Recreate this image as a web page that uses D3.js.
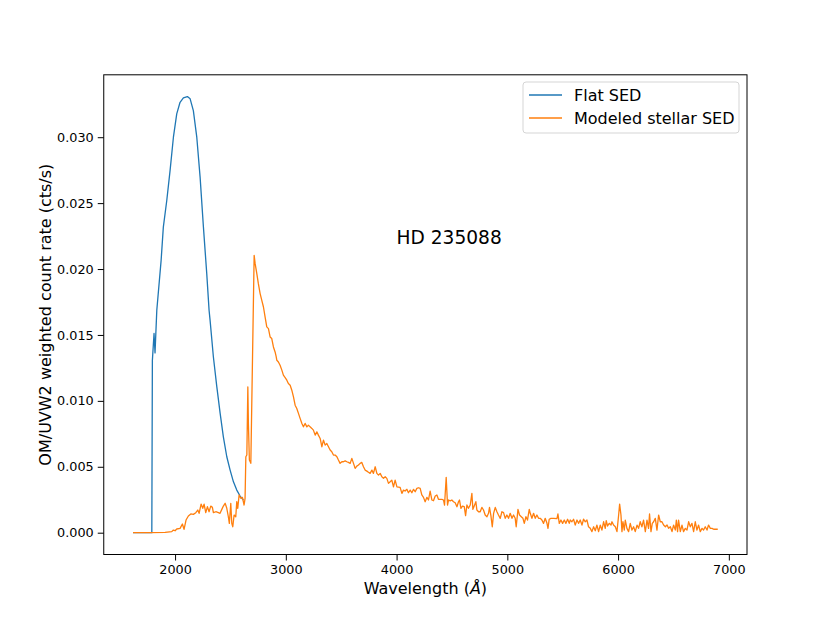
<!DOCTYPE html>
<html lang="en">
<head>
  <meta charset="UTF-8">
  <title>HD 235088 - OM/UVW2 weighted count rate</title>
  <script src="https://d3js.org/d3.v7.min.js"></script>
  <style>
    body { margin: 0; background: #fff; }
    svg { font-family: "DejaVu Sans", sans-serif; }
    .axis path, .axis line { stroke: #000; stroke-width: 1; }
    .axis text { fill: #000; }
    .frame { fill: none; stroke: #000; stroke-width: 1; }
    .series { fill: none; stroke-width: 1.3; stroke-linejoin: round; }
  </style>
</head>
<body>
  <svg id="chart" width="830" height="623"></svg>
  <script>
    // Flat SED (blue)
    const flatWave = [1620, 1790, 1795, 1810, 1819, 1835, 1874, 1894, 1925, 1955, 1985, 2015, 2045, 2075,
      2111, 2136, 2165, 2196, 2226, 2256, 2286, 2307, 2316, 2346, 2377, 2407, 2436, 2467, 2497, 2527,
      2557, 2587, 2617];
    const flatRate = [0, 0, 0.01305, 0.01511, 0.01364, 0.01687, 0.02066, 0.02318, 0.02520, 0.02748,
      0.03000, 0.03177, 0.03265, 0.03298, 0.03308, 0.03291, 0.03202, 0.03000, 0.02697, 0.02318, 0.01965,
      0.01687, 0.01612, 0.01333, 0.01106, 0.00905, 0.00727, 0.00576, 0.00475, 0.00386, 0.00323, 0.00278,
      0.00248];

    // Modeled stellar SED (orange)
    const stellarWave = [1620, 1774, 1910, 1970, 1985, 2000, 2015, 2045, 2066, 2081, 2099, 2120, 2142,
      2165, 2187, 2205, 2217, 2235, 2250, 2262, 2277, 2292, 2307, 2322, 2337, 2346, 2368, 2391, 2406,
      2422, 2436, 2452, 2467, 2481, 2490, 2503, 2512, 2521, 2533, 2548, 2557, 2566, 2578, 2593, 2608,
      2623, 2632, 2639, 2648, 2657, 2662, 2671, 2684, 2714, 2723, 2738, 2752, 2768, 2783, 2798, 2813,
      2828, 2843, 2858, 2873, 2888, 2903, 2912, 2919, 2933, 2948, 2964, 2978, 2994, 3009, 3023, 3039,
      3054, 3069, 3084, 3099, 3114, 3129, 3145, 3159, 3174, 3190, 3204, 3219, 3235, 3249, 3265, 3280,
      3294, 3310, 3325, 3340, 3355, 3370, 3385, 3400, 3415, 3430, 3445, 3461, 3475, 3490, 3506, 3520,
      3536, 3551, 3565, 3581, 3596, 3611, 3626, 3641, 3656, 3671, 3686, 3701, 3716, 3732, 3746, 3761,
      3777, 3791, 3807, 3822, 3837, 3852, 3867, 3882, 3897, 3912, 3927, 3942, 3957, 3972, 3987, 4003,
      4032, 4048, 4062, 4077, 4093, 4107, 4123, 4138, 4153, 4168, 4183, 4198, 4213, 4228, 4243, 4258,
      4274, 4288, 4303, 4319, 4333, 4349, 4364, 4378, 4394, 4409, 4424, 4433, 4448, 4460, 4469, 4484,
      4499, 4514, 4529, 4545, 4559, 4568, 4581, 4595, 4611, 4623, 4635, 4649, 4665, 4680, 4689, 4701,
      4716, 4725, 4740, 4755, 4770, 4785, 4800, 4816, 4830, 4839, 4852, 4864, 4876, 4891, 4906, 4920,
      4936, 4951, 4966, 4981, 4996, 5011, 5026, 5042, 5056, 5071, 5080, 5096, 5110, 5126, 5141, 5153,
      5168, 5182, 5198, 5207, 5222, 5237, 5252, 5267, 5282, 5297, 5312, 5327, 5342, 5358, 5367, 5378,
      5394, 5417, 5448, 5457, 5469, 5484, 5499, 5514, 5529, 5544, 5559, 5568, 5583, 5598, 5613, 5629,
      5643, 5658, 5674, 5688, 5704, 5719, 5733, 5749, 5764, 5779, 5794, 5809, 5824, 5839, 5854, 5869,
      5884, 5893, 5905, 5920, 5936, 5945, 5959, 5975, 5990, 6005, 6014, 6026, 6035, 6044, 6056, 6065,
      6080, 6095, 6110, 6125, 6140, 6155, 6171, 6185, 6200, 6215, 6230, 6246, 6261, 6275, 6284, 6297,
      6309, 6321, 6336, 6351, 6366, 6381, 6396, 6411, 6427, 6442, 6456, 6472, 6487, 6501, 6517, 6526,
      6537, 6546, 6562, 6577, 6591, 6607, 6622, 6637, 6652, 6667, 6682, 6697, 6712, 6727, 6742, 6758,
      6772, 6787, 6803, 6817, 6833, 6848, 6863, 6880, 6900];
    const stellarRate = [0, 0, 0.00002, 0.00008, 0.00020, 0.00015, 0.00028, 0.00033, 0.00066, 0.00026,
      0.00096, 0.00127, 0.00142, 0.00139, 0.00152, 0.00172, 0.00147, 0.00217, 0.00185, 0.00217, 0.00152,
      0.00197, 0.00159, 0.00202, 0.00192, 0.00152, 0.00159, 0.00152, 0.00147, 0.00177, 0.00202, 0.00223,
      0.00185, 0.00121, 0.00071, 0.00223, 0.00071, 0.00045, 0.00134, 0.00121, 0.00235, 0.00185, 0.00286,
      0.00261, 0.00268, 0.00210, 0.00261, 0.00576, 0.00589, 0.01106, 0.00829, 0.00551, 0.00526, 0.02104,
      0.02041, 0.01965, 0.01889, 0.01814, 0.01763, 0.01712, 0.01636, 0.01561, 0.01548, 0.01485, 0.01473,
      0.01409, 0.01371, 0.01339, 0.01308, 0.01295, 0.01270, 0.01233, 0.01195, 0.01177, 0.01157, 0.01132,
      0.01119, 0.01081, 0.01030, 0.00967, 0.00942, 0.00905, 0.00867, 0.00829, 0.00803, 0.00829, 0.00803,
      0.00816, 0.00803, 0.00791, 0.00778, 0.00740, 0.00765, 0.00740, 0.00715, 0.00652, 0.00702, 0.00664,
      0.00677, 0.00652, 0.00627, 0.00614, 0.00589, 0.00589, 0.00576, 0.00551, 0.00526, 0.00538, 0.00538,
      0.00545, 0.00538, 0.00533, 0.00526, 0.00564, 0.00526, 0.00488, 0.00505, 0.00513, 0.00526, 0.00533,
      0.00500, 0.00475, 0.00467, 0.00458, 0.00450, 0.00475, 0.00450, 0.00500, 0.00450, 0.00437, 0.00450,
      0.00424, 0.00412, 0.00424, 0.00412, 0.00374, 0.00386, 0.00399, 0.00348, 0.00399, 0.00348, 0.00344,
      0.00298, 0.00323, 0.00316, 0.00329, 0.00303, 0.00323, 0.00303, 0.00329, 0.00311, 0.00336, 0.00341,
      0.00336, 0.00286, 0.00268, 0.00235, 0.00268, 0.00248, 0.00316, 0.00248, 0.00242, 0.00278, 0.00286,
      0.00253, 0.00253, 0.00253, 0.00248, 0.00210, 0.00420, 0.00210, 0.00248, 0.00242, 0.00248, 0.00235,
      0.00227, 0.00197, 0.00235, 0.00248, 0.00185, 0.00202, 0.00197, 0.00129, 0.00210, 0.00185, 0.00210,
      0.00298, 0.00177, 0.00202, 0.00235, 0.00172, 0.00159, 0.00159, 0.00192, 0.00172, 0.00134, 0.00121,
      0.00147, 0.00192, 0.00127, 0.00045, 0.00147, 0.00192, 0.00159, 0.00134, 0.00109, 0.00159, 0.00152,
      0.00109, 0.00134, 0.00109, 0.00147, 0.00109, 0.00134, 0.00109, 0.00045, 0.00177, 0.00134, 0.00121,
      0.00109, 0.00071, 0.00121, 0.00096, 0.00177, 0.00147, 0.00109, 0.00147, 0.00109, 0.00134, 0.00109,
      0.00109, 0.00096, 0.00071, 0.00109, 0.00071, 0.00033, 0.00102, 0.00109, 0.00109, 0.00106, 0.00142,
      0.00071, 0.00096, 0.00071, 0.00096, 0.00071, 0.00102, 0.00071, 0.00096, 0.00083, 0.00102, 0.00058,
      0.00096, 0.00071, 0.00096, 0.00058, 0.00102, 0.00083, 0.00096, 0.00045, 0.00033, 0.00008, 0.00045,
      0.00015, 0.00058, 0.00008, 0.00058, 0.00020, 0.00083, 0.00033, 0.00091, 0.00051, 0.00071, 0.00058,
      0.00083, 0.00058, 0.00045, 0.00008, 0.00134, 0.00217, 0.00134, 0.00008, 0.00083, 0.00020, 0.00096,
      0.00033, 0.00008, 0.00071, 0.00020, 0.00045, 0.00008, 0.00058, 0.00033, 0.00083, 0.00045, 0.00096,
      0.00008, 0.00096, 0.00033, 0.00142, 0.00008, 0.00071, 0.00083, 0.00109, 0.00020, 0.00134, 0.00083,
      0.00083, 0.00058, 0.00045, 0.00058, 0.00033, 0.00045, 0.00008, 0.00058, 0.00020, 0.00096, 0.00008,
      0.00096, 0.00008, 0.00058, 0.00008, 0.00033, 0.00020, 0.00083, 0.00045, 0.00071, 0.00008, 0.00083,
      0.00020, 0.00058, 0.00008, 0.00033, 0.00020, 0.00045, 0.00020, 0.00058, 0.00033, 0.00033, 0.00026,
      0.00026, 0.00026];

    const xTicks = [2000, 3000, 4000, 5000, 6000, 7000];
    const yTicks = [0, 0.005, 0.010, 0.015, 0.020, 0.025, 0.030];
    const seriesNames = ["Flat SED", "Modeled stellar SED"];
    const seriesColors = ["#1f77b4", "#ff7f0e"];
    const starName = "HD 235088";
    const starLabelAt = [4000, 0.022];

    const width = 830, height = 623;
    const margin = { left: 103.75, right: 83, top: 74.8, bottom: 68.5 };
    const innerW = width - margin.left - margin.right;
    const innerH = height - margin.top - margin.bottom;
    const font = "DejaVu Sans";

    const svg = d3.select("#chart");
    const g = svg.append("g").attr("transform", `translate(${margin.left},${margin.top})`);

    // matplotlib-like 5% padding around the data
    const allWave = flatWave.concat(stellarWave);
    const allRate = flatRate.concat(stellarRate);
    const [wMin, wMax] = d3.extent(allWave);
    const [rMin, rMax] = d3.extent(allRate);
    const wPad = (wMax - wMin) * 0.05, rPad = (rMax - rMin) * 0.05;

    const x = d3.scaleLinear().domain([wMin - wPad, wMax + wPad]).range([0, innerW]);
    const y = d3.scaleLinear().domain([rMin - rPad, rMax + rPad]).range([innerH, 0]);

    const line = d3.line().x(d => x(d[0])).y(d => y(d[1]));

    const flatData = flatWave.map((w, i) => [w, flatRate[i]]);
    const stellarData = stellarWave.map((w, i) => [w, stellarRate[i]]);

    g.append("path").datum(flatData).attr("class", "series")
      .attr("stroke", seriesColors[0]).attr("d", line);
    g.append("path").datum(stellarData).attr("class", "series")
      .attr("stroke", seriesColors[1]).attr("d", line);

    // axes
    g.append("g").attr("class", "axis")
      .attr("transform", `translate(0,${innerH})`)
      .call(d3.axisBottom(x).tickValues(xTicks).tickFormat(d3.format("d")).tickSize(6).tickPadding(4).tickSizeOuter(0))
      .attr("font-family", font).attr("font-size", 12.8);
    g.append("g").attr("class", "axis")
      .call(d3.axisLeft(y).tickValues(yTicks).tickFormat(d3.format(".3f")).tickSize(6).tickPadding(4).tickSizeOuter(0))
      .attr("font-family", font).attr("font-size", 12.8);
    g.selectAll(".axis .domain").remove();

    g.append("rect").attr("class", "frame")
      .attr("x", 0).attr("y", 0).attr("width", innerW).attr("height", innerH);

    // axis labels
    const xLab = svg.append("text")
      .attr("x", margin.left + innerW / 2).attr("y", 594)
      .attr("text-anchor", "middle").attr("font-size", 16);
    xLab.append("tspan").text("Wavelength (");
    xLab.append("tspan").attr("font-style", "italic").text("Å");
    xLab.append("tspan").text(")");

    svg.append("text")
      .attr("transform", `translate(51,${margin.top + innerH / 2}) rotate(-90)`)
      .attr("text-anchor", "middle").attr("font-size", 16)
      .text("OM/UVW2 weighted count rate (cts/s)");

    // star name, placed in data coordinates
    g.append("text")
      .attr("x", x(starLabelAt[0])).attr("y", y(starLabelAt[1]) + 1.3)
      .attr("font-size", 18.6)
      .text(starName);

    // legend
    const legend = svg.append("g").attr("transform", "translate(523,82)");
    legend.append("rect")
      .attr("width", 216).attr("height", 51).attr("rx", 3)
      .attr("fill", "#fff").attr("fill-opacity", 0.8)
      .attr("stroke", "#d5d5d5").attr("stroke-width", 1);
    seriesNames.forEach((name, i) => {
      const yy = 13 + i * 23;
      legend.append("line")
        .attr("x1", 6).attr("x2", 39).attr("y1", yy).attr("y2", yy)
        .attr("stroke", seriesColors[i]).attr("stroke-width", 1.3);
      legend.append("text")
        .attr("x", 51).attr("y", yy + 5.8)
        .attr("font-size", 16)
        .text(name);
    });
  </script>
</body>
</html>
